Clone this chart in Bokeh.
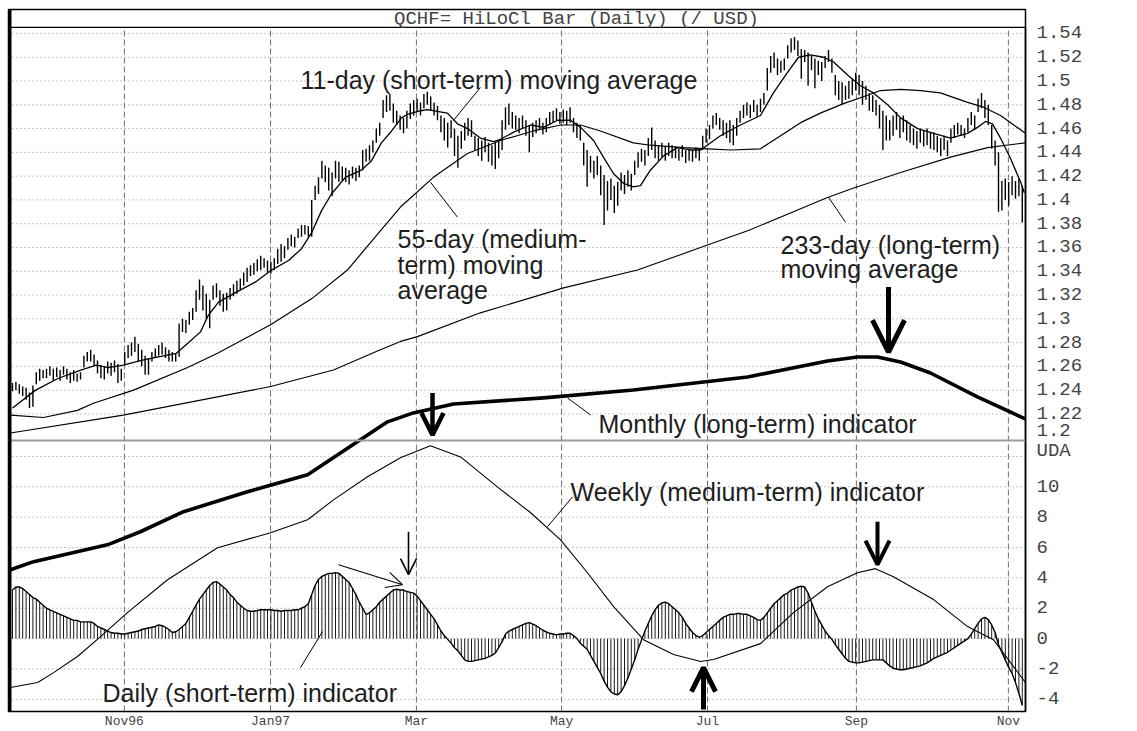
from bokeh.plotting import figure
from bokeh.models import (Range1d, LinearAxis, FixedTicker, Span, Label, Arrow,
                          OpenHead, ColumnDataSource)
from bokeh.embed import file_html
from bokeh.resources import INLINE

# ---------------- data ----------------
HIGH = [1.246,1.247,1.245,1.243,1.242,1.238,1.244,1.255,1.258,1.257,
        1.258,1.260,1.258,1.259,1.257,1.260,1.258,1.255,1.257,1.254,
        1.255,1.269,1.272,1.274,1.270,1.265,1.261,1.260,1.264,1.263,
        1.265,1.262,1.258,1.272,1.278,1.280,1.285,1.279,1.274,1.269,
        1.267,1.272,1.275,1.278,1.280,1.276,1.274,1.272,1.271,1.296,
        1.300,1.299,1.306,1.309,1.324,1.333,1.328,1.321,1.316,1.328,
        1.330,1.324,1.321,1.322,1.326,1.329,1.332,1.334,1.339,1.343,
        1.345,1.347,1.350,1.353,1.351,1.349,1.348,1.351,1.359,1.363,
        1.361,1.368,1.371,1.369,1.376,1.379,1.379,1.378,1.400,1.412,
        1.419,1.433,1.429,1.427,1.423,1.433,1.432,1.428,1.427,1.425,
        1.428,1.427,1.429,1.442,1.443,1.446,1.450,1.460,1.465,1.484,
        1.488,1.489,1.481,1.475,1.471,1.469,1.475,1.481,1.484,1.485,
        1.482,1.489,1.491,1.487,1.482,1.479,1.471,1.469,1.465,1.467,
        1.460,1.454,1.458,1.465,1.469,1.467,1.454,1.452,1.450,1.453,
        1.448,1.446,1.448,1.450,1.467,1.478,1.481,1.474,1.471,1.469,
        1.471,1.467,1.463,1.465,1.467,1.469,1.465,1.469,1.474,1.475,
        1.477,1.474,1.476,1.475,1.478,1.469,1.465,1.463,1.448,1.442,
        1.437,1.433,1.437,1.429,1.421,1.416,1.418,1.412,1.415,1.423,
        1.421,1.425,1.422,1.433,1.440,1.443,1.442,1.452,1.461,1.450,
        1.446,1.448,1.445,1.448,1.446,1.445,1.443,1.446,1.442,1.443,
        1.442,1.444,1.443,1.454,1.460,1.463,1.471,1.473,1.469,1.467,
        1.465,1.467,1.463,1.469,1.475,1.480,1.482,1.480,1.484,1.480,
        1.485,1.490,1.511,1.521,1.524,1.519,1.517,1.519,1.530,1.536,
        1.537,1.534,1.527,1.526,1.524,1.521,1.519,1.517,1.516,1.521,
        1.526,1.519,1.505,1.500,1.499,1.496,1.500,1.502,1.507,1.505,
        1.500,1.496,1.490,1.488,1.484,1.480,1.475,1.471,1.467,1.471,
        1.474,1.469,1.471,1.467,1.463,1.460,1.458,1.460,1.458,1.460,
        1.457,1.457,1.454,1.452,1.454,1.450,1.460,1.463,1.465,1.463,
        1.460,1.469,1.474,1.471,1.485,1.490,1.484,1.480,1.463,1.450,
        1.440,1.416,1.418,1.415,1.420,1.416,1.418,1.412]
LOW = [1.239,1.240,1.237,1.235,1.232,1.225,1.226,1.245,1.248,1.250,
       1.250,1.252,1.248,1.251,1.248,1.253,1.249,1.246,1.248,1.247,
       1.249,1.259,1.264,1.264,1.260,1.254,1.250,1.249,1.254,1.252,
       1.255,1.246,1.248,1.261,1.267,1.269,1.272,1.264,1.260,1.253,
       1.253,1.264,1.267,1.269,1.270,1.267,1.264,1.264,1.264,1.268,
       1.289,1.288,1.295,1.299,1.306,1.316,1.307,1.300,1.292,1.316,
       1.318,1.311,1.306,1.307,1.316,1.319,1.321,1.324,1.328,1.331,
       1.336,1.337,1.340,1.341,1.343,1.339,1.338,1.341,1.346,1.348,
       1.351,1.358,1.361,1.360,1.368,1.369,1.371,1.369,1.369,1.400,
       1.405,1.418,1.415,1.408,1.403,1.418,1.415,1.416,1.415,1.413,
       1.418,1.416,1.419,1.425,1.432,1.433,1.440,1.448,1.454,1.469,
       1.474,1.475,1.465,1.463,1.459,1.456,1.460,1.468,1.471,1.474,
       1.471,1.477,1.480,1.475,1.471,1.467,1.457,1.450,1.444,1.452,
       1.437,1.427,1.443,1.450,1.454,1.453,1.442,1.437,1.433,1.440,
       1.432,1.429,1.426,1.435,1.442,1.459,1.463,1.460,1.459,1.456,
       1.460,1.454,1.440,1.453,1.456,1.459,1.455,1.457,1.463,1.465,
       1.467,1.464,1.465,1.463,1.465,1.457,1.452,1.450,1.429,1.411,
       1.423,1.418,1.421,1.404,1.379,1.391,1.400,1.389,1.395,1.408,
       1.405,1.411,1.408,1.421,1.427,1.432,1.429,1.437,1.442,1.435,
       1.433,1.436,1.433,1.437,1.435,1.435,1.433,1.436,1.431,1.433,
       1.432,1.435,1.433,1.442,1.448,1.451,1.460,1.463,1.459,1.454,
       1.452,1.448,1.446,1.454,1.465,1.469,1.471,1.469,1.474,1.470,
       1.474,1.480,1.492,1.507,1.511,1.505,1.507,1.509,1.519,1.524,
       1.526,1.521,1.502,1.516,1.496,1.509,1.494,1.505,1.500,1.511,
       1.516,1.507,1.488,1.484,1.480,1.484,1.485,1.488,1.492,1.488,
       1.480,1.484,1.475,1.474,1.471,1.460,1.442,1.450,1.450,1.454,
       1.459,1.452,1.457,1.450,1.448,1.446,1.443,1.448,1.445,1.446,
       1.443,1.442,1.440,1.437,1.442,1.437,1.448,1.452,1.455,1.454,
       1.452,1.457,1.463,1.459,1.474,1.477,1.469,1.463,1.443,1.429,
       1.390,1.391,1.400,1.395,1.404,1.401,1.403,1.381]

DAILY = [3.2,3.4,3.4,3.3,3.1,2.9,2.7,2.6,2.4,2.2,
         2.0,1.9,1.8,1.7,1.6,1.5,1.4,1.3,1.2,1.2,
         1.1,1.1,1.1,1.1,1.0,0.8,0.7,0.6,0.5,0.4,
         0.35,0.35,0.3,0.3,0.35,0.4,0.45,0.5,0.6,0.65,
         0.7,0.75,0.8,0.9,0.85,0.75,0.6,0.4,0.45,0.6,
         0.8,1.0,1.4,1.8,2.2,2.6,2.9,3.2,3.5,3.7,
         3.75,3.6,3.4,3.2,2.9,2.7,2.4,2.2,2.0,1.85,
         1.8,1.8,1.85,1.9,1.9,1.9,1.9,1.85,1.85,1.8,
         1.85,1.85,1.85,1.9,1.9,2.0,2.1,2.3,2.9,3.5,
         3.9,4.1,4.2,4.3,4.3,4.35,4.3,4.1,3.9,3.7,
         3.3,2.9,2.4,2.0,1.6,1.7,1.9,2.1,2.4,2.6,
         2.8,3.0,3.2,3.25,3.2,3.2,3.1,3.05,3.0,2.8,
         2.5,2.2,1.9,1.6,1.3,0.9,0.5,0.2,-0.05,-0.3,
         -0.6,-0.8,-1.1,-1.4,-1.5,-1.5,-1.45,-1.4,-1.35,-1.3,
         -1.2,-1.1,-0.95,-0.6,-0.2,0.3,0.5,0.6,0.7,0.8,
         0.9,1.0,1.05,0.95,0.85,0.7,0.55,0.45,0.35,0.3,
         0.25,0.3,0.3,0.35,0.35,0.2,0.0,-0.3,-0.5,-0.7,
         -1.1,-1.5,-1.9,-2.3,-2.8,-3.2,-3.5,-3.65,-3.7,-3.5,
         -3.1,-2.6,-2.0,-1.4,-0.7,-0.1,0.5,1.0,1.5,1.9,
         2.2,2.35,2.4,2.3,2.1,1.9,1.7,1.4,1.0,0.7,
         0.4,0.2,0.1,0.2,0.4,0.6,0.8,1.0,1.2,1.4,
         1.5,1.6,1.6,1.65,1.65,1.6,1.6,1.5,1.4,1.25,
         1.2,1.4,1.7,2.0,2.3,2.5,2.7,2.9,3.0,3.2,
         3.3,3.4,3.45,3.4,3.0,2.4,1.8,1.3,0.9,0.5,
         0.2,-0.05,-0.4,-0.7,-1.0,-1.3,-1.5,-1.55,-1.6,-1.6,
         -1.55,-1.5,-1.45,-1.4,-1.4,-1.4,-1.4,-1.6,-1.8,-1.95,
         -2.0,-2.05,-2.05,-2.0,-1.95,-1.9,-1.85,-1.8,-1.7,-1.6,
         -1.45,-1.3,-1.2,-1.1,-1.0,-0.9,-0.75,-0.6,-0.45,-0.3,
         -0.15,0.0,0.3,0.65,1.0,1.3,1.4,1.25,0.9,0.4,
         -0.4,-0.9,-1.4,-1.9,-2.3,-2.9,-3.6,-4.4]

MA11_X = [0,6.8,13.5,20.3,24.7,28.2,32.6,37.9,42.9,48.2,
          51.8,55.3,57.6,60.6,65.6,71.5,76.2,81.2,85.0,87.9,
          90.9,93.8,97.9,102.6,105.6,108.5,111.5,114.4,116.2,120,
          122,127.9,130.9,133.8,137.6,141.5,143.5,147.4,152.4,156.2,
          160.3,164.1,167.1,170.9,173.8,176.8,179.7,182.6,184.7,187.6,
          191.5,195.6,199.4,202.4,208.2,214.1,220,223.8,227.9,231.2,
          234.7,238.5,241.5,245.6,249.4,253.2,257.4,261.2,266.2,270.9,
          275.9,280.9,283.8,286.2,288.2,290.6,293.5,296.5,297.6]
MA11_Y = [1.225,1.240,1.250,1.257,1.261,1.259,1.261,1.265,1.268,1.271,
          1.280,1.289,1.303,1.314,1.322,1.331,1.341,1.349,1.359,1.372,
          1.391,1.405,1.419,1.425,1.433,1.448,1.458,1.469,1.472,1.475,
          1.476,1.473,1.464,1.460,1.452,1.449,1.451,1.457,1.463,1.461,
          1.467,1.467,1.461,1.450,1.436,1.422,1.414,1.411,1.412,1.425,
          1.437,1.444,1.442,1.442,1.454,1.463,1.471,1.490,1.507,1.520,
          1.522,1.520,1.516,1.505,1.496,1.490,1.480,1.469,1.460,1.456,
          1.452,1.456,1.461,1.466,1.464,1.452,1.435,1.415,1.406]

MA55_X = [-0.6,9.1,19.1,23.8,35.6,51.5,60.3,75.9,88.5,98.5,
          108.2,114.1,123.8,133.8,143.5,153.2,161.2,167.1,172.9,182.6,
          187.6,197.4,204.4,211.2,220,225.9,231.8,237.6,244.4,251.5,
          255.3,261.2,267.1,272.9,280.9,285.6,290.6,297.9]
MA55_Y = [1.219,1.217,1.223,1.229,1.240,1.259,1.271,1.295,1.318,1.341,
          1.374,1.394,1.419,1.439,1.450,1.458,1.463,1.463,1.458,1.448,
          1.446,1.444,1.443,1.442,1.443,1.454,1.465,1.473,1.481,1.488,
          1.492,1.493,1.492,1.490,1.482,1.478,1.471,1.456]

MA233_X = [-0.6,32.6,75.9,94.4,108.2,114.1,119.1,137.6,162.1,183.8,
           204.4,216.2,239.7,247.4,261.2,275.9,286.8,297.9]
MA233_Y = [1.204,1.219,1.243,1.257,1.274,1.281,1.285,1.305,1.326,1.341,
           1.362,1.374,1.402,1.410,1.423,1.436,1.444,1.448]

MONTHLY_X = [-0.6,6.2,27.9,37.6,50.3,69.1,86.8,110.3,117.9,129.7,
             156.2,182.6,216.2,239.7,248.5,254.4,261.2,270.0,283.8,297.9]
MONTHLY_Y = [4.54,5.07,6.18,7.04,8.36,9.67,10.79,14.28,14.87,15.46,
             15.86,16.38,17.24,18.29,18.55,18.55,18.22,17.50,15.92,14.47]

WEEKLY_X = [-0.6,7.4,12.1,19.1,25.9,33.8,45.6,60.3,75.9,86.8,
            94.4,104.4,114.1,122.9,131.8,142.6,152.4,161.2,169.1,176.8,
            185.6,194.4,202.4,206.2,220,229.7,239.7,248.5,253.8,259.1,
            270.9,280.9,288.5,297.9]
WEEKLY_Y = [-3.22,-2.89,-2.24,-1.18,0.13,1.71,3.88,5.99,6.97,7.83,
            9.14,10.66,11.91,12.70,11.97,10.0,8.29,6.51,4.34,2.11,
            -0.07,-1.05,-1.51,-1.38,-0.33,1.71,3.42,4.34,4.61,4.08,
            2.57,0.79,-0.07,-2.89]

MONTH_POS = [32.9, 75.9, 118.8, 161.5, 204.4, 248.2, 292.9]
MONTH_LABELS = ["Nov96", "Jan97", "Mar", "May", "Jul", "Sep", "Nov"]
PRICE_TICKS = [1.20, 1.22, 1.24, 1.26, 1.28, 1.30, 1.32, 1.34, 1.36,
               1.38, 1.40, 1.42, 1.44, 1.46, 1.48, 1.50, 1.52, 1.54]
UDA_TICKS = [-4, -2, 0, 2, 4, 6, 8, 10]
UDA_GRID = [-4, -2, 0, 2, 4, 6, 8, 10, 12]
UDA_NAME = "UDA"

TITLE = "QCHF= HiLoCl Bar (Daily) (/ USD)"

# ---------------- layout geometry (page pixels) ----------------
W, H = 1137, 731
FRAME_L, FRAME_R, FRAME_T, FRAME_B = 8, 1025, 9, 712
BAR0_PX, BAR_STEP = 12, 3.4
U0_PY, U_PX = 639, 15.2
P_REF, P_REF_PY, P_PX = 1.54, 33, 1190.6


def ix(px):
    return (px - BAR0_PX) / BAR_STEP


def uy(py):
    return (U0_PY - py) / U_PX


def pp(py):
    return P_REF - (py - P_REF_PY) / P_PX


def price_py(v):
    return P_REF_PY + (P_REF - v) * P_PX


N = len(HIGH)
BAR_IDX = list(range(N))

p = figure(width=W, height=H,
           x_range=Range1d(ix(FRAME_L), ix(FRAME_R)),
           y_range=Range1d(uy(FRAME_B), uy(FRAME_T)),
           x_axis_location=None, y_axis_location=None,
           toolbar_location=None, output_backend="svg",
           min_border_left=FRAME_L, min_border_top=FRAME_T,
           min_border_right=W - FRAME_R, min_border_bottom=H - FRAME_B,
           background_fill_color="white", border_fill_color="white",
           outline_line_color="black", outline_line_width=1.5)
p.extra_y_ranges = {"price": Range1d(pp(FRAME_B), pp(FRAME_T))}
p.xgrid.grid_line_color = None
p.ygrid.grid_line_color = None

GRID_COLOR = "#8c8c8c"
# horizontal dotted grids
for v in PRICE_TICKS[1:]:
    p.add_layout(Span(location=uy(price_py(v)), dimension="width",
                      line_color=GRID_COLOR, line_dash="1 3", line_width=1,
                      level="underlay"))
for v in UDA_GRID:
    p.add_layout(Span(location=v, dimension="width",
                      line_color=GRID_COLOR, line_dash="1 3", line_width=1,
                      level="underlay"))

# vertical dashed month lines
r = p.segment(x0=MONTH_POS, y0=uy(FRAME_B), x1=MONTH_POS, y1=uy(27),
              line_color="#6e6e6e", line_dash="6 3", line_width=1)
r.level = "underlay"

# frame decorations
p.add_layout(Span(location=uy(27), dimension="width", line_color="black",
                  line_width=1.3))
p.add_layout(Span(location=uy(440.5), dimension="width", line_color="#9c9c9c",
                  line_width=2))
p.add_layout(Span(location=ix(9.5), dimension="height", line_color="black",
                  line_width=3))

src = ColumnDataSource(dict(i=BAR_IDX, hi=HIGH, lo=LOW, d=DAILY))

# daily histogram
p.segment(x0="i", y0=0, x1="i", y1="d", source=src, line_color="#1a1a1a",
          line_width=1)
p.line("i", "d", source=src, line_color="black", line_width=1.4)

# price bars
p.segment(x0="i", y0="lo", x1="i", y1="hi", source=src, y_range_name="price",
          line_color="black", line_width=1.4)

# moving averages
p.line(MA11_X, MA11_Y, y_range_name="price", line_color="black", line_width=1.3)
p.line(MA55_X, MA55_Y, y_range_name="price", line_color="black", line_width=1.2)
p.line(MA233_X, MA233_Y, y_range_name="price", line_color="black", line_width=1.1)

# indicators
p.line(WEEKLY_X, WEEKLY_Y, line_color="black", line_width=1.1)
p.line(MONTHLY_X, MONTHLY_Y, line_color="black", line_width=3.6,
       line_join="round")

# right axis: price labels (upper panel) + UDA labels (lower panel)
ticks = []
overrides = {}
for v in PRICE_TICKS:
    py = price_py(v)
    if v == PRICE_TICKS[0]:
        py -= 7  # lowest label sits just above the panel divider
    u = round(uy(py), 6)
    ticks.append(u)
    overrides[u] = f"{v:g}"
for v in UDA_TICKS:
    ticks.append(float(v))
    overrides[float(v)] = f"{v:d}"
u_name = round(uy(451), 6)
ticks.append(u_name)
overrides[u_name] = UDA_NAME
ax = LinearAxis(ticker=FixedTicker(ticks=ticks), major_label_overrides=overrides,
                axis_line_color="black", axis_line_width=1.5,
                bounds=(uy(FRAME_B), uy(27)),
                major_tick_line_color=None, minor_tick_line_color=None,
                major_label_standoff=5,
                major_label_text_font="Liberation Mono",
                major_label_text_font_size="19px",
                major_label_text_color="#444444")
p.add_layout(ax, "right")

# bottom axis: month labels
xticks = [float(v) for v in MONTH_POS]
xax = LinearAxis(ticker=FixedTicker(ticks=xticks),
                 major_label_overrides=dict(zip(xticks, MONTH_LABELS)),
                 axis_line_color=None, major_tick_line_color=None,
                 minor_tick_line_color=None, major_tick_out=0,
                 major_label_standoff=2,
                 major_label_text_font="Liberation Mono",
                 major_label_text_font_size="13px",
                 major_label_text_color="#444444")
p.add_layout(xax, "below")

# title inside the top band
p.add_layout(Label(x=ix(576), y=uy(18.5), text=TITLE, text_align="center",
                   text_baseline="middle", text_font="Liberation Mono",
                   text_font_size="19px", text_color="#444444"))

# annotation texts
SANS = dict(text_font="Liberation Sans", text_font_size="25px",
            text_color="#1e1e1e", text_baseline="alphabetic", text_align="left")
notes = [(300, 80, "11-day (short-term) moving average"),
         (397, 239, "55-day (medium-"),
         (397, 265, "term) moving"),
         (397, 290, "average"),
         (780, 245, "233-day (long-term)"),
         (780, 269, "moving average"),
         (598, 424, "Monthly (long-term) indicator"),
         (570, 492, "Weekly (medium-term) indicator"),
         (102, 693, "Daily (short-term) indicator")]
for x, y, t in notes:
    p.add_layout(Label(x=ix(x), y=uy(y), text=t, **SANS))

# leader lines
leaders = [((480, 87), (453, 120)), ((457, 217), (430, 182)),
           ((828, 197), (845, 222)), ((567, 398), (590, 415)),
           ((572, 497), (547, 527)), ((300, 668), (322, 632))]
for (x0, y0), (x1, y1) in leaders:
    p.add_layout(Arrow(x_start=ix(x0), y_start=uy(y0), x_end=ix(x1),
                       y_end=uy(y1), end=None, line_color="black",
                       line_width=1))

# signal arrows
arrows = [((432, 393), (432, 435), 4.5, 22),
          ((888, 287), (888, 352), 5, 32),
          ((408, 532), (408, 575), 1.6, 16),
          ((338, 565), (402, 585), 1.1, 16),
          ((877, 522), (877, 565), 4, 24),
          ((703, 710), (703, 668), 5, 24)]
for (x0, y0), (x1, y1), w, s in arrows:
    p.add_layout(Arrow(x_start=ix(x0), y_start=uy(y0), x_end=ix(x1),
                       y_end=uy(y1), line_color="black", line_width=w,
                       end=OpenHead(size=s, line_width=w, line_color="black")))

open("out.html", "w").write(file_html(p, INLINE))
